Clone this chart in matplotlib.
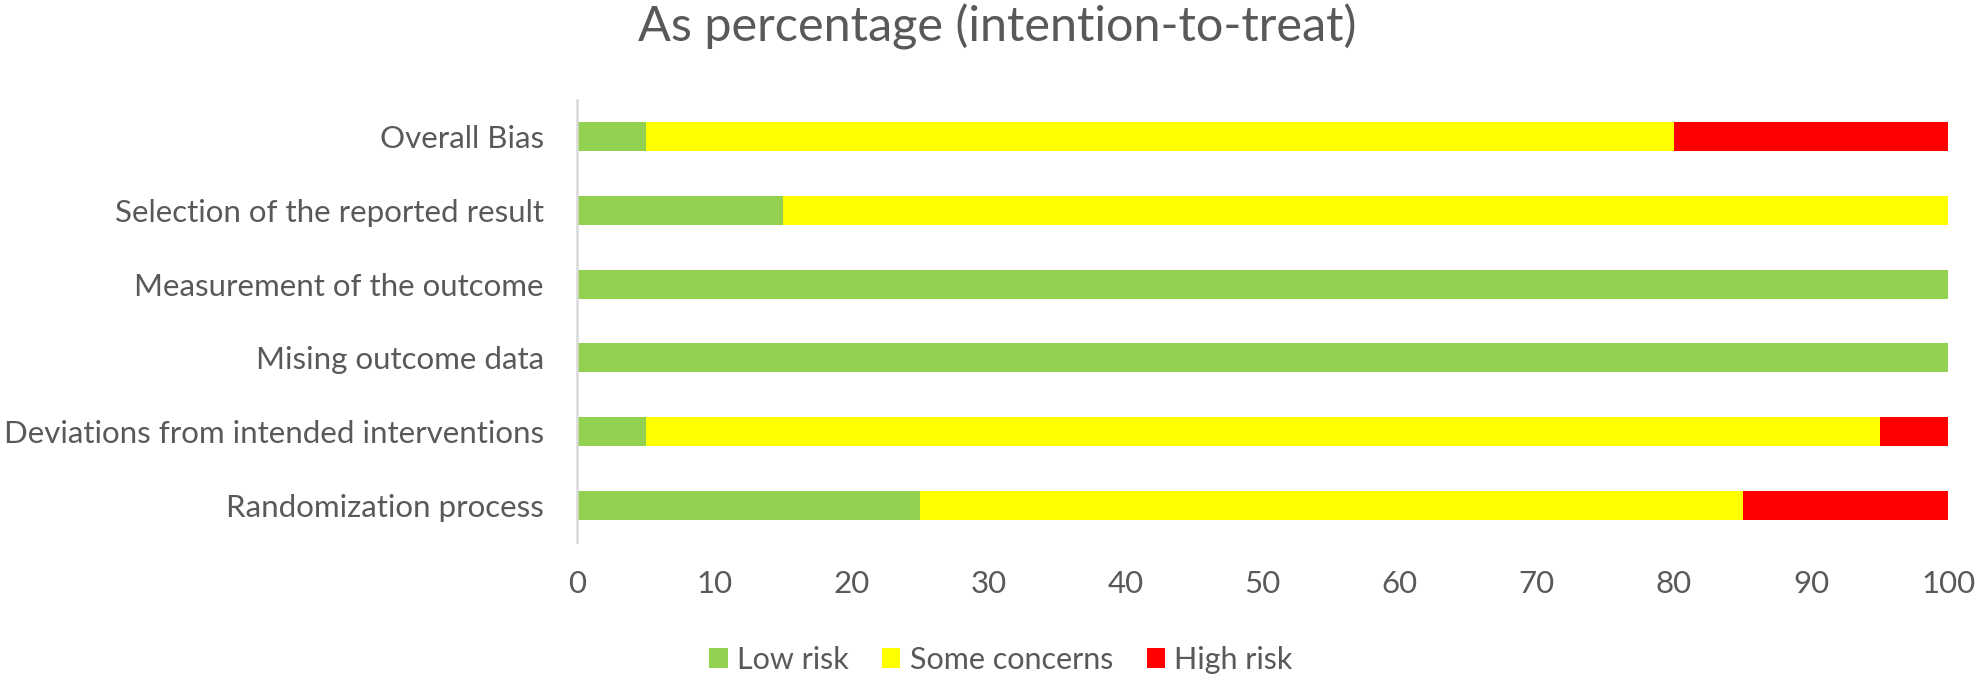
import matplotlib.pyplot as plt
import numpy as np

# Data (percent of studies)
domains = ['Randomization process', 'Deviations from intended interventions',
           'Mising outcome data', 'Measurement of the outcome',
           'Selection of the reported result', 'Overall Bias']
low_risk = [25, 5, 100, 100, 15, 5]
some_concerns = [60, 90, 0, 0, 85, 75]
high_risk = [15, 5, 0, 0, 0, 20]

plt.rcParams['font.family'] = ['Lato', 'DejaVu Sans']
text_color = '#595959'

fig = plt.figure(figsize=(19.78, 6.83), dpi=100)
ax = fig.add_axes([0.2917, 0.2064, 0.6933, 0.6472])

y = np.arange(len(domains))
h = 0.39
low = np.array(low_risk)
some = np.array(some_concerns)
high = np.array(high_risk)

ax.barh(y, low, height=h, color='#92D050', label='Low risk')
ax.barh(y, some, height=h, left=low, color='#FFFF00', label='Some concerns')
ax.barh(y, high, height=h, left=low + some, color='#FF0000', label='High risk')

ax.set_xlim(0, 100)
ax.set_ylim(-0.5, len(domains) - 0.5)
ax.set_xticks(np.arange(0, 101, 10))
ax.set_yticks(y)
ax.set_yticklabels(domains)
ax.tick_params(axis='both', length=0, labelsize=22.5, colors=text_color)
ax.tick_params(axis='x', pad=20)
ax.tick_params(axis='y', pad=24)

for side in ['top', 'right', 'bottom']:
    ax.spines[side].set_visible(False)
ax.spines['left'].set_color('#D9D9D9')
ax.spines['left'].set_linewidth(1.8)

fig.suptitle('As percentage (intention-to-treat)', fontsize=35, color=text_color,
             x=0.504, y=0.995)

fig.legend(loc='center', bbox_to_anchor=(0.506, 0.034), ncol=3, frameon=False,
           fontsize=22, labelcolor=text_color, handlelength=0.6, handleheight=0.6,
           columnspacing=1.1, handletextpad=0.3)

fig.savefig('out.png', dpi=100)
